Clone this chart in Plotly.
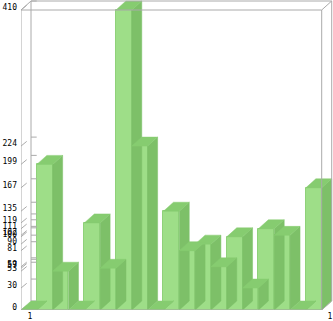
import plotly.graph_objects as go

# ---- data ----
slots = list(range(19))
values = [0, 199, 53, 0, 119, 57, 410, 224, 0, 135, 81, 90, 59, 100, 30, 111, 102, 0, 167]
x_labels = ["1", "1"]
x_label_pos = [0.07, 19.02]

# ---- geometry helpers (depth of the 3D look, in axis units) ----
W_PX, H_PX = 333, 321
L, R, T, B = 21, 0, 0, 11
slot_px = 300.7 / 19
y_px = 300.0 / 410
DX = 10.0 / slot_px
DY = 9.0 / y_px
x_max = (W_PX - L - R) / slot_px - 0.5
y_max = (H_PX - T - B) / y_px

FRONT = "rgb(158,222,136)"
TOP = "rgb(134,204,112)"
SIDE = "rgb(125,192,104)"
EDGE = "rgb(143,209,122)"
GREY = "#aaaaaa"

fig = go.Figure()

# axis tick decorations on left wall
tick_vals = sorted(set(values))
tx, ty = [], []
for t in tick_vals:
    tx += [-0.5 + DX, -0.5 + DX + 5.7 / slot_px, None]
    ty += [t + DY, t + DY, None]
    tx += [-0.5, -0.5 + 5.7 / slot_px, None]
    ty += [t, t + 4.7 / y_px, None]
fig.add_trace(go.Scatter(x=tx, y=ty, mode="lines", line=dict(color=GREY, width=1),
                         hoverinfo="skip", showlegend=False))

# sides
sx, sy = [], []
for i, v in zip(slots, values):
    sx += [i + 0.5, i + 0.5, i + 0.5 + DX, i + 0.5 + DX, i + 0.5, None]
    sy += [0, v, v + DY, DY, 0, None]
fig.add_trace(go.Scatter(x=sx, y=sy, mode="lines", fill="toself", fillcolor=SIDE,
                         line=dict(color=SIDE, width=0.5), hoverinfo="skip", showlegend=False))

# tops
px_, py_ = [], []
for i, v in zip(slots, values):
    px_ += [i - 0.5, i + 0.5, i + 0.5 + DX, i - 0.5 + DX, i - 0.5, None]
    py_ += [v, v, v + DY, v + DY, v, None]
fig.add_trace(go.Scatter(x=px_, y=py_, mode="lines", fill="toself", fillcolor=TOP,
                         line=dict(color=TOP, width=0.5), hoverinfo="skip", showlegend=False))

# fronts
fig.add_trace(go.Bar(x=slots, y=values, width=1, marker=dict(color=FRONT, line=dict(color=EDGE, width=1)),
                     hoverinfo="skip", showlegend=False))

# frame
x0, x1 = -0.5, 18.5
frame = [
    (x0, 0, x1, 0), (x0, 410, x1, 410), (x0, 0, x0, 410), (x1, 0, x1, 410),
    (x0 + DX, 410 + DY, x1 + DX, 410 + DY), (x0 + DX, DY, x0 + DX, 410 + DY),
    (x1 + DX, DY, x1 + DX, 410 + DY),
    (x0, 410, x0 + DX, 410 + DY), (x1, 410, x1 + DX, 410 + DY), (x1, 0, x1 + DX, DY),
]
for a, b, c, d in frame:
    fig.add_shape(type="line", x0=a, y0=b, x1=c, y1=d, xref="x", yref="y",
                  line=dict(color=GREY, width=1), layer="above")

fig.update_layout(
    width=W_PX, height=H_PX,
    margin=dict(l=L, r=R, t=T, b=B, pad=0),
    plot_bgcolor="white", paper_bgcolor="white",
    bargap=0, hovermode=False, showlegend=False,
    xaxis=dict(range=[-0.5, x_max], showgrid=False, zeroline=False, showline=False,
               tickvals=x_label_pos, ticktext=x_labels, ticks="",
               tickfont=dict(family="DejaVu Sans Mono", size=8, color="black")),
    yaxis=dict(range=[0, y_max], showgrid=False, zeroline=False, showline=False,
               tickvals=tick_vals, ticktext=[str(t) for t in tick_vals], ticks="",
               ticklabelshift=-3, ticklabelstandoff=3,
               tickfont=dict(family="DejaVu Sans Mono", size=8, color="black")),
)

fig.write_html("out.html")
